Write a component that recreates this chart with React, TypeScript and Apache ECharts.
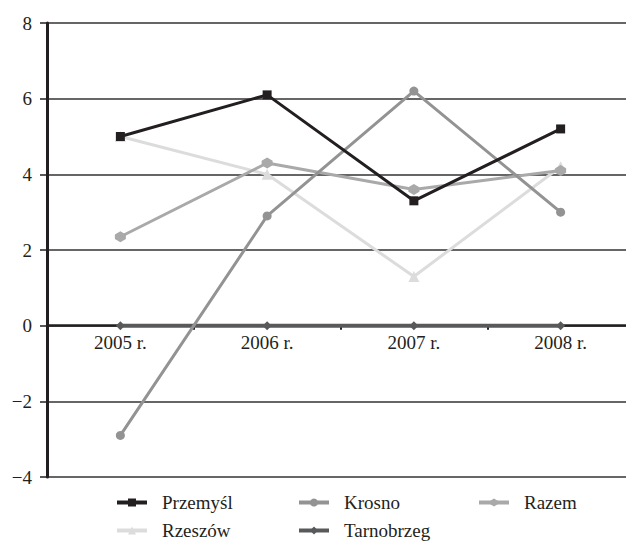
import React, { useEffect, useRef } from "react";
import * as echarts from "echarts";

const categories = ["2005 r.", "2006 r.", "2007 r.", "2008 r."];
const przemysl = [5.0, 6.1, 3.3, 5.2];
const krosno = [-2.9, 2.9, 6.2, 3.0];
const razem = [2.35, 4.3, 3.6, 4.1];
const rzeszow = [5.0, 4.0, 1.3, 4.2];
const tarnobrzeg = [0, 0, 0, 0];
const yTicks = [-4, -2, 0, 2, 4, 6, 8];

const FONT = "Liberation Serif";
const TXT = "#231f20";
const HEX = "path://M5,0 L10,3 L10,7 L5,10 L0,7 L0,3 Z";

const GRID_TOP = 15;
const GRID_BOTTOM = 84;
const DIV_H = 553;

export default function App() {
  const ref = useRef<HTMLDivElement>(null);
  useEffect(() => {
    const chart = echarts.init(ref.current!, undefined, { renderer: "svg" });
    const mk = (name: string, data: number[], color: string, symbol: string, size: number, z: number, w = 3) => ({
      name,
      type: "line",
      data,
      symbol,
      symbolSize: size,
      z,
      lineStyle: { color, width: w },
      itemStyle: { color },
    });
    const legendBase = {
      orient: "vertical",
      itemWidth: 30,
      itemHeight: 10,
      itemGap: 9,
      lineStyle: { width: 4 },
      textStyle: { fontFamily: FONT, fontSize: 19, color: TXT, padding: [0, 0, 0, 10] },
    };
    const yMin = yTicks[0];
    const yMax = yTicks[yTicks.length - 1];
    const gridH = DIV_H - GRID_TOP - GRID_BOTTOM;
    const zeroOffset = -gridH * (0 - yMin) / (yMax - yMin);
    chart.setOption({
      animation: false,
      grid: { left: 39, top: GRID_TOP, right: 0, bottom: GRID_BOTTOM, containLabel: false },
      xAxis: {
        type: "category",
        data: categories,
        boundaryGap: true,
        offset: zeroOffset,
        axisLine: { onZero: false, lineStyle: { color: "#231f20", width: 2.5 } },
        axisTick: { show: true, length: 4, inside: false, lineStyle: { color: "#231f20", width: 2 } },
        axisLabel: { fontFamily: FONT, fontSize: 19, color: TXT, margin: 7 },
        splitLine: { show: false },
      },
      yAxis: {
        type: "value",
        min: yMin,
        max: yMax,
        interval: 2,
        axisLine: { show: true, onZero: false, lineStyle: { color: "#231f20", width: 3 } },
        axisTick: { show: true, length: 7, lineStyle: { color: "#231f20", width: 1.5 } },
        axisLabel: {
          fontFamily: FONT,
          fontSize: 19,
          color: TXT,
          margin: 15,
          formatter: (v: number) => String(v).replace("-", "\u2212"),
        },
        splitLine: { show: true, lineStyle: { color: "#333333", width: 1.5 } },
      },
      legend: [
        { ...legendBase, left: 102, top: 480, data: ["Przemyśl", "Rzeszów"] },
        { ...legendBase, left: 284, top: 480, data: ["Krosno", "Tarnobrzeg"] },
        { ...legendBase, left: 464, top: 480, data: ["Razem"] },
      ],
      series: [
        mk("Tarnobrzeg", tarnobrzeg, "#58595b", "diamond", 9, 2, 4),
        mk("Rzeszów", rzeszow, "#dcdcdc", "triangle", 11, 3),
        mk("Razem", razem, "#a9a9a9", HEX, 11, 4),
        mk("Krosno", krosno, "#939393", "circle", 9, 5),
        mk("Przemyśl", przemysl, "#231f20", "rect", 9, 6),
      ],
    });
    return () => chart.dispose();
  }, []);
  return <div ref={ref} style={{ width: 626, height: DIV_H }} />;
}
